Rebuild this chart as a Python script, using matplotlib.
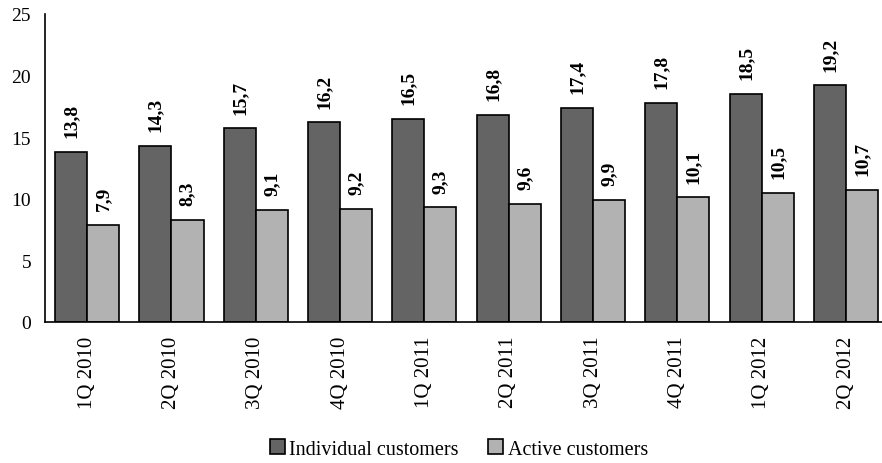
import numpy as np
import matplotlib
matplotlib.use("Agg")
import matplotlib.pyplot as plt

plt.rcParams['font.family'] = ['Liberation Serif', 'DejaVu Serif']

quarters = ["1Q 2010", "2Q 2010", "3Q 2010", "4Q 2010", "1Q 2011",
            "2Q 2011", "3Q 2011", "4Q 2011", "1Q 2012", "2Q 2012"]
individual = [13.8, 14.3, 15.7, 16.2, 16.5, 16.8, 17.4, 17.8, 18.5, 19.2]
active = [7.9, 8.3, 9.1, 9.2, 9.3, 9.6, 9.9, 10.1, 10.5, 10.7]

fig = plt.figure(figsize=(8.82, 4.64), dpi=100)
ax = fig.add_axes([0.051, 0.304, 0.956, 0.664])

x = np.arange(len(quarters))
w = 0.38
b1 = ax.bar(x - w/2, individual, w, color="#646464", edgecolor="black", linewidth=1.2,
            label="Individual customers")
b2 = ax.bar(x + w/2, active, w, color="#b2b2b2", edgecolor="black", linewidth=1.2,
            label="Active customers")

for bars, vals in ((b1, individual), (b2, active)):
    for r, v in zip(bars, vals):
        ax.text(r.get_x() + r.get_width()/2, v + 1.2, f"{v:.1f}".replace(".", ","),
                rotation=90, ha="center", va="bottom", fontsize=14, fontweight="bold")

ax.set_xlim(-0.5, len(quarters) - 0.5)
ax.set_ylim(0, 25)
ax.set_yticks([0, 5, 10, 15, 20, 25])
ax.set_xticks(x)
ax.set_xticklabels(quarters, rotation=90, fontsize=15)
ax.tick_params(axis="y", labelsize=14, length=0, pad=10)
ax.tick_params(axis="x", length=0, pad=10)
for s in ("top", "right"):
    ax.spines[s].set_visible(False)
ax.spines["left"].set_linewidth(1.2)
ax.spines["bottom"].set_linewidth(1.2)

fig.legend(loc="lower center", bbox_to_anchor=(0.52, -0.03), ncol=2, frameon=False,
           fontsize=14.5, handlelength=0.75, handleheight=0.75, handletextpad=0.2,
           columnspacing=1.5)

fig.savefig("out.png", dpi=100)
